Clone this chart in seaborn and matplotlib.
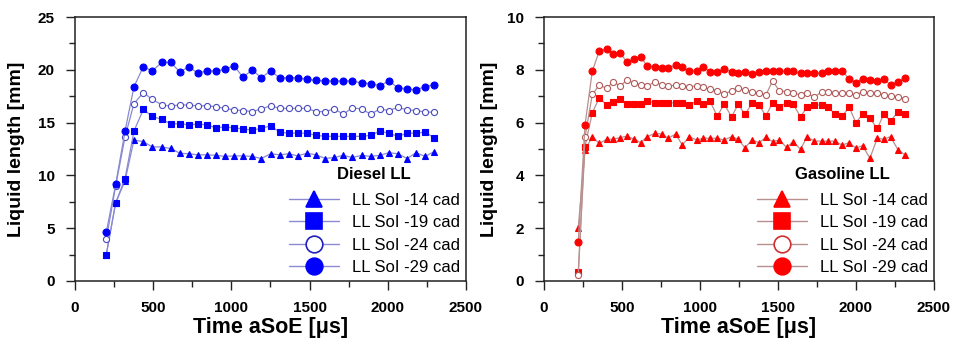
import matplotlib
matplotlib.use("Agg")
import matplotlib.pyplot as plt
from matplotlib.lines import Line2D
from matplotlib.ticker import MultipleLocator
import seaborn as sns
import pandas as pd

# ---------------- data ----------------
time_diesel = [200, 260, 320, 377, 437, 494, 554, 612, 671, 727, 784, 844, 902, 959,
               1017, 1074, 1134, 1191, 1251, 1309, 1366, 1424, 1483, 1541, 1601, 1658,
               1716, 1773, 1833, 1891, 1950, 2008, 2065, 2125, 2180, 2240, 2297]
diesel_14 = [2.5, 7.4, 9.5, 13.35, 13.2, 12.7, 12.7, 12.55, 12.1, 12.05, 11.95, 11.95, 11.9,
             11.8, 11.85, 11.85, 11.8, 11.6, 12.05, 11.95, 12.05, 11.85, 12.1, 11.95, 11.6,
             11.7, 11.9, 11.7, 11.9, 11.8, 11.9, 12.15, 12.05, 11.6, 12.15, 11.8, 12.25]
diesel_19 = [2.5, 7.4, 9.7, 14.2, 16.25, 15.6, 15.3, 14.9, 14.9, 14.8, 14.85, 14.8, 14.5,
             14.6, 14.5, 14.4, 14.3, 14.45, 14.7, 14.1, 14.0, 14.0, 14.0, 13.8, 13.7, 13.7,
             13.7, 13.7, 13.7, 13.8, 14.2, 14.0, 13.7, 14.0, 14.0, 14.1, 13.55]
diesel_24 = [3.95, 9.0, 13.66, 16.8, 17.85, 17.2, 16.7, 16.55, 16.7, 16.65, 16.6, 16.6, 16.5,
             16.35, 16.2, 16.15, 16.05, 16.3, 16.6, 16.35, 16.35, 16.35, 16.35, 16.05, 16.05,
             16.3, 15.8, 16.4, 16.3, 15.8, 16.3, 16.15, 16.45, 16.2, 16.15, 16.0, 16.0]
diesel_29 = [4.61, 9.15, 14.2, 18.4, 20.3, 19.9, 20.7, 20.7, 19.8, 20.3, 19.7, 19.9, 19.9,
             20.05, 20.4, 19.3, 20.0, 19.25, 19.9, 19.25, 19.25, 19.25, 19.1, 19.0, 18.95,
             18.95, 18.95, 18.95, 18.75, 18.7, 18.5, 18.95, 18.3, 18.2, 18.1, 18.4, 18.6]

time_gasoline = [220, 263, 310, 355, 402, 445, 487, 534, 579, 620, 662, 712, 754, 797, 844,
                 887, 932, 979, 1021, 1064, 1111, 1156, 1203, 1246, 1288, 1335, 1378, 1423,
                 1466, 1509, 1556, 1598, 1645, 1688, 1733, 1780, 1823, 1865, 1912, 1957,
                 2000, 2043, 2090, 2137, 2179, 2222, 2271, 2318]
gasoline_14 = [2.02, 4.96, 5.47, 5.21, 5.37, 5.37, 5.43, 5.49, 5.37, 5.24, 5.47, 5.59, 5.57,
               5.41, 5.57, 5.15, 5.47, 5.34, 5.41, 5.41, 5.41, 5.34, 5.47, 5.37, 5.05, 5.34,
               5.24, 5.44, 5.28, 5.34, 5.06, 5.28, 4.99, 5.47, 5.30, 5.30, 5.30, 5.30, 5.15,
               5.24, 5.03, 5.13, 4.65, 5.41, 5.37, 5.47, 4.96, 4.77]
gasoline_19 = [0.33, 5.09, 6.38, 6.94, 6.67, 6.79, 6.88, 6.69, 6.69, 6.69, 6.82, 6.75, 6.75,
               6.75, 6.75, 6.73, 6.67, 6.82, 6.70, 6.82, 6.25, 6.70, 6.22, 6.70, 6.31, 6.73,
               6.67, 6.26, 6.75, 6.60, 6.75, 6.70, 6.22, 6.60, 6.67, 6.67, 6.60, 6.31, 6.25,
               6.58, 6.00, 6.31, 6.16, 5.78, 6.31, 6.06, 6.41, 6.31]
gasoline_24 = [0.23, 5.44, 7.07, 7.42, 7.30, 7.55, 7.39, 7.61, 7.49, 7.42, 7.39, 7.55, 7.42,
               7.39, 7.42, 7.39, 7.36, 7.39, 7.34, 7.26, 7.21, 7.08, 7.21, 7.30, 7.23, 7.17,
               7.11, 7.05, 7.58, 7.21, 7.17, 7.13, 7.05, 7.11, 6.96, 7.17, 7.17, 7.13, 7.11,
               7.11, 7.05, 7.17, 7.13, 7.11, 7.05, 7.01, 6.98, 6.89]
gasoline_29 = [1.47, 5.90, 7.95, 8.72, 8.78, 8.62, 8.65, 8.28, 8.40, 8.50, 8.14, 8.12, 8.06,
               8.08, 8.18, 8.10, 7.95, 7.97, 8.12, 7.93, 7.93, 8.02, 7.93, 7.87, 7.93, 7.85,
               7.93, 7.95, 7.95, 7.95, 7.95, 7.95, 7.87, 7.87, 7.87, 7.87, 7.95, 7.95, 7.95,
               7.66, 7.52, 7.66, 7.61, 7.58, 7.66, 7.42, 7.55, 7.68]

series_labels = ["LL SoI -14 cad", "LL SoI -19 cad", "LL SoI -24 cad", "LL SoI -29 cad"]
diesel_title = "Diesel LL"
gasoline_title = "Gasoline LL"
x_label = "Time aSoE [\u03bcs]"
y_label = "Liquid length [mm]"

# ---------------- style ----------------
sns.set_style("ticks")
plt.rcParams["font.family"] = ["Liberation Sans", "DejaVu Sans"]
plt.rcParams["text.color"] = "black"
plt.rcParams["axes.labelcolor"] = "black"
plt.rcParams["xtick.color"] = "#222222"
plt.rcParams["ytick.color"] = "#222222"
plt.rcParams["xtick.labelcolor"] = "black"
plt.rcParams["ytick.labelcolor"] = "black"

fig = plt.figure(figsize=(9.58, 3.49), dpi=100)
ax1 = fig.add_axes([0.0783, 0.195, 0.408, 0.756])
ax2 = fig.add_axes([0.5678, 0.195, 0.407, 0.756])

markers = ["^", "s", "o", "o"]


def draw(ax, t, ys, mcolor, lcolor, ocolor, msizes):
    for i, y in enumerate(ys):
        df = pd.DataFrame({"t": t, "y": y})
        face = "white" if i == 2 else mcolor
        edge = ocolor if i == 2 else mcolor
        sns.lineplot(data=df, x="t", y="y", ax=ax, sort=False, estimator=None,
                     color=lcolor, linewidth=0.9, marker=markers[i],
                     markersize=msizes[i], markerfacecolor=face,
                     markeredgecolor=edge, markeredgewidth=0.8, zorder=3)


draw(ax1, time_diesel, [diesel_14, diesel_19, diesel_24, diesel_29],
     "#0000ff", "#8a8ad2", "#4a4ac0", [4.4, 4.3, 4.4, 5.0])
draw(ax2, time_gasoline, [gasoline_14, gasoline_19, gasoline_24, gasoline_29],
     "#ff0000", "#b89090", "#b05a5a", [4.2, 4.4, 4.4, 5.0])


def style(ax, ymax, ymaj, ymin_):
    ax.set_xlim(0, 2500)
    ax.set_ylim(0, ymax)
    ax.xaxis.set_major_locator(MultipleLocator(500))
    ax.xaxis.set_minor_locator(MultipleLocator(250))
    ax.yaxis.set_major_locator(MultipleLocator(ymaj))
    ax.yaxis.set_minor_locator(MultipleLocator(ymin_))
    ax.tick_params(which="major", direction="out", length=6.5, width=1.0,
                   labelsize=11, pad=8, color="#222222", labelcolor="black")
    ax.tick_params(which="minor", direction="out", length=4.5, width=1.0,
                   color="#222222")
    for lab in ax.get_xticklabels() + ax.get_yticklabels():
        lab.set_fontweight("bold")
    for sp in ax.spines.values():
        sp.set_visible(True)
        sp.set_linewidth(1.1)
        sp.set_color("#222222")
    ax.set_xlabel(x_label, fontsize=15.5, fontweight="bold", color="black")
    ax.set_ylabel(y_label, fontsize=14, fontweight="bold", color="black")
    ax.xaxis.set_label_coords(0.5, -0.136)


style(ax1, 25, 5, 2.5)
style(ax2, 10, 2, 1)
ax1.yaxis.set_label_coords(-0.128, 0.5)
ax2.yaxis.set_label_coords(-0.118, 0.5)


def legend(ax, title, mcolor, lcolor, ocolor):
    handles = []
    for i, lab in enumerate(series_labels):
        face = "white" if i == 2 else mcolor
        edge = ocolor if i == 2 else mcolor
        handles.append(Line2D([], [], color=lcolor, linewidth=1.0, marker=markers[i],
                              markersize=12, markerfacecolor=face,
                              markeredgecolor=edge, markeredgewidth=1.2))
    leg = ax.legend(handles=handles, labels=series_labels, title=title,
                    loc="lower right", bbox_to_anchor=(1.0, 0.0), frameon=False,
                    fontsize=12, title_fontproperties={"weight": "bold", "size": 12},
                    handlelength=3.0, handletextpad=0.8, labelspacing=0.45,
                    borderaxespad=0.15, borderpad=0.2, labelcolor="black")
    leg.get_title().set_color("black")
    leg._legend_box.sep = 8
    return leg


legend(ax1, diesel_title, "#0000ff", "#8a8ad2", "#2020c0")
legend(ax2, gasoline_title, "#ff0000", "#b89090", "#d03030")

fig.savefig("out.png", dpi=100)
